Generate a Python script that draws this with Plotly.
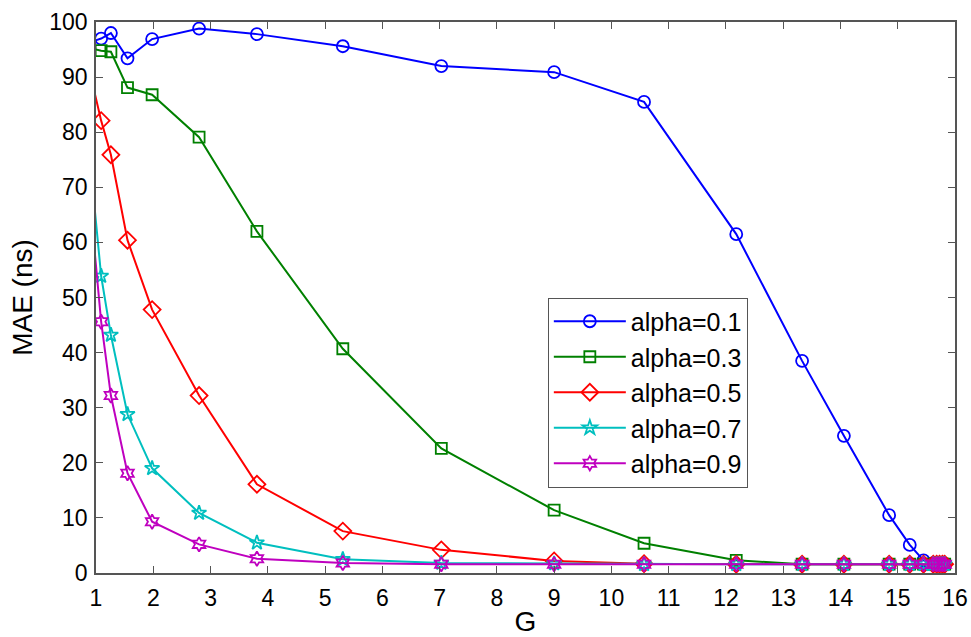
import plotly.graph_objects as go

# G values (first one lies left of the visible axis range)
G = [0.8, 1.09, 1.26, 1.55, 1.98, 2.8, 3.81, 5.31, 7.03, 9.0, 10.57, 12.18,
     13.33, 14.06, 14.85, 15.21, 15.45, 15.62, 15.68, 15.73, 15.78, 15.82]

mae_a01 = [96.0, 97.0, 98.0, 93.4, 96.9, 98.8, 97.8, 95.6, 92.0, 90.9, 85.5, 61.5,
           38.5, 24.9, 10.5, 5.1, 2.3, 1.8, 1.7, 1.6, 1.6, 1.6]
mae_a03 = [95.5, 94.8, 94.6, 88.1, 86.8, 79.1, 62.0, 40.7, 22.6, 11.4, 5.4, 2.3,
           1.6, 1.6, 1.6, 1.6, 1.6, 1.6, 1.6, 1.6, 1.6, 1.6]
mae_a05 = [95.0, 82.1, 75.9, 60.4, 47.8, 32.2, 16.1, 7.6, 4.2, 2.2, 1.7, 1.6,
           1.6, 1.6, 1.6, 1.6, 1.6, 1.6, 1.6, 1.6, 1.6, 1.6]
mae_a07 = [85.4, 53.9, 43.2, 28.8, 19.0, 10.9, 5.5, 2.5, 1.8, 1.7, 1.6, 1.6,
           1.6, 1.6, 1.6, 1.6, 1.6, 1.6, 1.6, 1.6, 1.6, 1.6]
mae_a09 = [78.3, 45.6, 32.2, 18.1, 9.3, 5.2, 2.6, 1.8, 1.6, 1.6, 1.6, 1.6,
           1.6, 1.6, 1.6, 1.6, 1.6, 1.6, 1.6, 1.6, 1.6, 1.6]

series_names = ["alpha=0.1", "alpha=0.3", "alpha=0.5", "alpha=0.7", "alpha=0.9"]
series_vals = [mae_a01, mae_a03, mae_a05, mae_a07, mae_a09]
colors = ["rgb(0,0,255)", "rgb(0,128,0)", "rgb(255,0,0)", "rgb(0,191,191)", "rgb(191,0,191)"]
symbols = ["circle-open", "square-open", "diamond-open", "star-open", "hexagram-open"]
sizes = [12, 11, 13, 11, 11]

x_ticks = list(range(1, 17))
y_ticks = list(range(0, 101, 10))

fig = go.Figure()
for name, vals, c, s, sz in zip(series_names, series_vals, colors, symbols, sizes):
    fig.add_trace(go.Scatter(
        x=G, y=vals, name=name, mode="lines+markers",
        line=dict(color=c, width=2),
        marker=dict(symbol=s, size=sz, color=c, line=dict(color=c, width=1.8)),
    ))

axis_common = dict(
    showgrid=False, zeroline=False, showline=True, linecolor="#555555", linewidth=1.5,
    mirror="ticks", ticks="inside", ticklen=7, tickcolor="#555555", tickwidth=1.2,
    automargin=False,
    tickfont=dict(family="Liberation Sans, Arial", size=23, color="black"),
)

fig.update_layout(
    width=971, height=637,
    margin=dict(l=96, r=16, t=22, b=64),
    paper_bgcolor="white", plot_bgcolor="white",
    font=dict(family="Liberation Sans, Arial", size=23, color="black"),
    xaxis=dict(range=[1, 16], tickvals=x_ticks, ticklabelstandoff=4,
               title=dict(text="G", standoff=11), **axis_common),
    yaxis=dict(range=[0, 100], tickvals=y_ticks, ticklabelstandoff=2,
               title=dict(text="MAE (ns)", standoff=8), **axis_common),
    legend=dict(x=0.526, y=0.5, xanchor="left", yanchor="top",
                bgcolor="white", bordercolor="#555555", borderwidth=1,
                itemwidth=72, tracegroupgap=0,
                font=dict(family="Liberation Sans, Arial", size=25)),
    showlegend=True,
)

fig.write_html("out.html", config={"displayModeBar": False},
               post_script="document.body.style.margin='0';")
